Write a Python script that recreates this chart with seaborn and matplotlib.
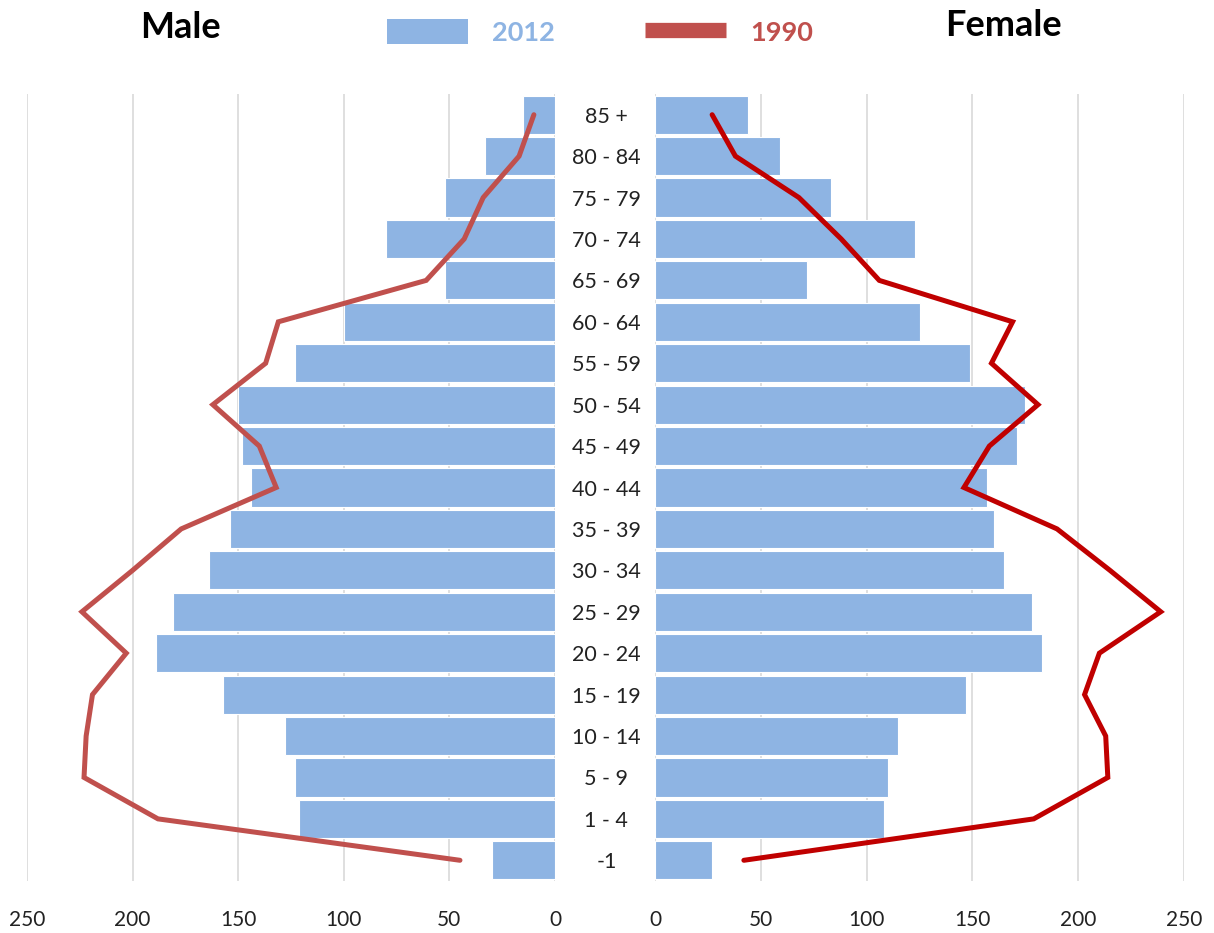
import numpy as np
import pandas as pd
import matplotlib
matplotlib.use("Agg")
import matplotlib.pyplot as plt
from matplotlib.patches import Patch
from matplotlib.lines import Line2D
import seaborn as sns

# Age groups, oldest at the top
age_groups = ["85 +", "80 - 84", "75 - 79", "70 - 74", "65 - 69", "60 - 64",
              "55 - 59", "50 - 54", "45 - 49", "40 - 44", "35 - 39", "30 - 34",
              "25 - 29", "20 - 24", "15 - 19", "10 - 14", "5 - 9", "1 - 4", "-1"]

male_2012 = [15, 33, 52, 80, 52, 100, 123, 150, 148, 144, 154, 164,
             181, 189, 157, 128, 123, 121, 30]
male_1990 = [10, 17, 34, 43, 61, 131, 137, 162, 140, 132, 177, 200,
             224, 203, 219, 222, 223, 188, 45]
female_2012 = [44, 59, 83, 123, 72, 125, 149, 175, 171, 157, 160, 165,
               178, 183, 147, 115, 110, 108, 27]
female_1990 = [27, 38, 68, 88, 106, 169, 159, 181, 158, 146, 190, 215,
               239, 210, 203, 213, 214, 179, 42]

x_ticks = [0, 50, 100, 150, 200, 250]

BAR_COLOR = "#8EB4E3"
MALE_LINE = "#C0504D"
FEMALE_LINE = "#C00000"
GRID = "#D9D9D9"

sns.set_theme(style="white")
plt.rcParams["font.family"] = ["Lato", "DejaVu Sans"]

W, H = 1214, 933
fig = plt.figure(figsize=(W / 100, H / 100), dpi=100)

top, bottom = 94, 881
ax_m = fig.add_axes([27 / W, 1 - bottom / H, 528 / W, (bottom - top) / H])
ax_f = fig.add_axes([655 / W, 1 - bottom / H, 529 / W, (bottom - top) / H])

pos = np.arange(len(age_groups))
df = pd.DataFrame({
    "age": age_groups,
    "pos": pos,
    "male_2012": male_2012,
    "male_1990": male_1990,
    "female_2012": female_2012,
    "female_1990": female_1990,
})

for ax, bar_col, line_col, lc in [
    (ax_m, "male_2012", "male_1990", MALE_LINE),
    (ax_f, "female_2012", "female_1990", FEMALE_LINE),
]:
    for t in x_ticks:
        ax.axvline(t, color=GRID, lw=1.2, zorder=0)
    sns.barplot(data=df, x=bar_col, y="age", order=age_groups, orient="h",
                color=BAR_COLOR, saturation=1, width=0.92,
                edgecolor="white", linewidth=0.8, ax=ax, zorder=2)
    sns.lineplot(data=df, x=line_col, y="pos", orient="y", sort=False,
                 estimator=None, color=lc, lw=3.6, ax=ax, zorder=3,
                 solid_joinstyle="miter")
    ax.set_ylim(len(age_groups) - 0.5, -0.5)
    ax.set_xticks(x_ticks)
    ax.set_xticklabels([str(t) for t in x_ticks])
    ax.tick_params(axis="x", length=0, pad=21, labelsize=15, labelcolor="#222222")
    ax.set_xlabel("")
    ax.set_ylabel("")
    ax.grid(False)
    for s in ax.spines.values():
        s.set_visible(False)

ax_m.set_xlim(250, 0)
ax_f.set_xlim(0, 250)

ax_m.set_yticks([])
ax_f.set_yticks(pos)
ax_f.set_yticklabels(age_groups)
ax_f.tick_params(axis="y", length=0, pad=35, labelsize=15.5, labelcolor="#222222")
for lab in ax_f.get_yticklabels():
    lab.set_horizontalalignment("center")

fig.text(180 / W, 1 - 28 / H, "Male", ha="center", va="center",
         fontsize=26, fontweight="bold", color="black")
fig.text(1003 / W, 1 - 26 / H, "Female", ha="center", va="center",
         fontsize=26, fontweight="bold", color="black")

handles = [Patch(facecolor=BAR_COLOR, edgecolor="none"),
           Line2D([0], [0], color=MALE_LINE, lw=11, solid_capstyle="butt")]
leg = fig.legend(handles, ["2012", "1990"], loc="center",
                 bbox_to_anchor=(600 / W, 1 - 32 / H), ncol=2, frameon=False,
                 prop={"size": 19.5, "weight": "bold"}, handlelength=3.0,
                 handleheight=1.0, handletextpad=0.9, columnspacing=3.3)
for txt, c in zip(leg.get_texts(), [BAR_COLOR, MALE_LINE]):
    txt.set_color(c)

fig.savefig("out.png", dpi=100, facecolor="white")
